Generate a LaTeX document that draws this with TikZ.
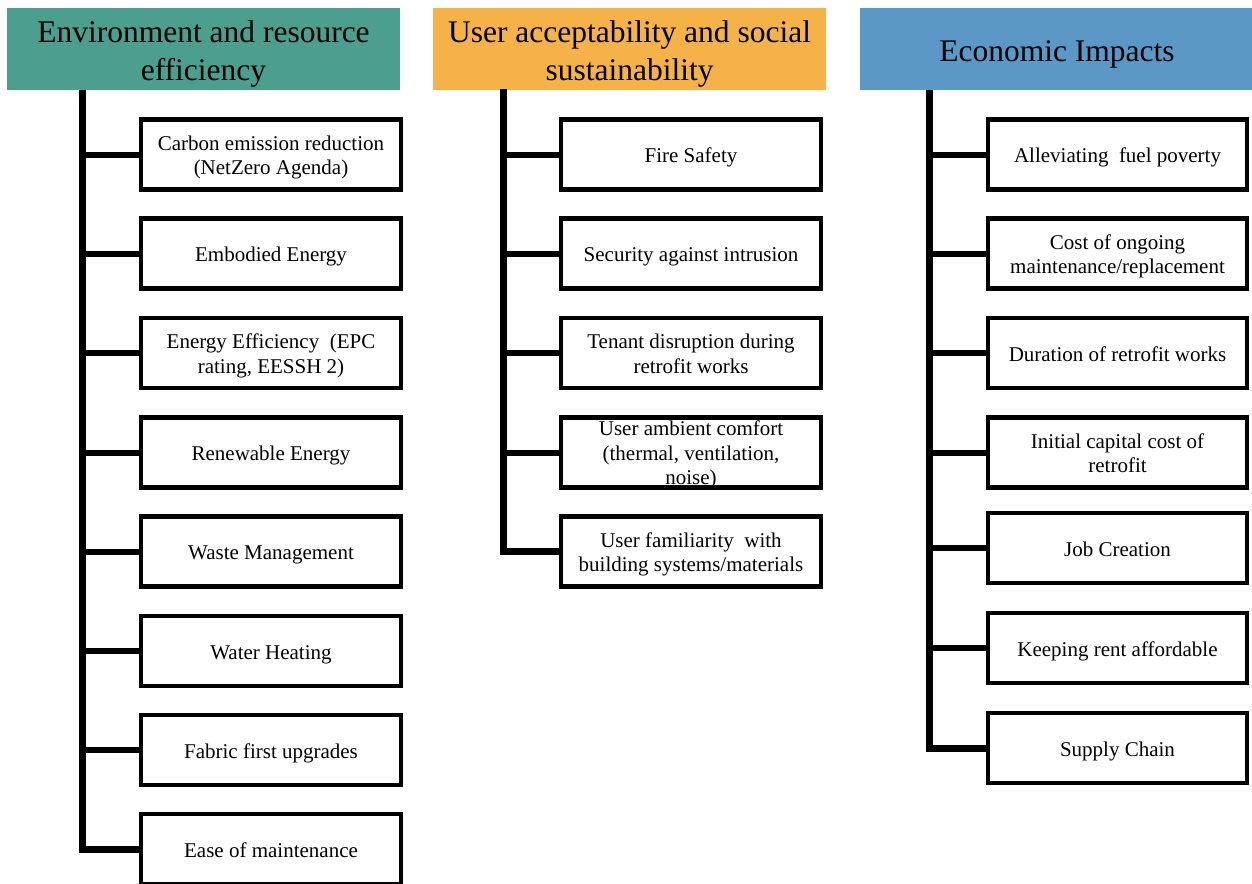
\documentclass[tikz,border=0pt]{standalone}
\usepackage{fontspec}
\setmainfont{Liberation Serif}
\definecolor{envteal}{RGB}{76,158,142}
\definecolor{userorange}{RGB}{245,178,72}
\definecolor{econblue}{RGB}{92,152,197}
% centred lines of text, lowered a little and kept from stretching the box
\newcommand{\boxlines}[2]{\raisebox{-#1}[\dimexpr\height-2pt\relax][\dimexpr\depth-2pt\relax]{%
  \begin{tabular}{@{}c@{}}#2\end{tabular}}}
\begin{document}
\begin{tikzpicture}[x=1pt,y=-1pt,
  header/.style={rectangle,inner sep=0pt,outer sep=0pt,minimum width=393,minimum height=82,
    font=\fontsize{31.5}{38}\selectfont},
  itembox/.style={rectangle,draw=black,line width=4.5pt,inner sep=0pt,outer sep=0pt,fill=white,
    minimum width=260,minimum height=70,font=\fontsize{21}{24.5}\selectfont},
  trunk/.style={line width=7pt,draw=black},
  branch/.style={line width=6pt,draw=black}]
\useasboundingbox (0,0) rectangle (1252,883);
\clip (0,0) rectangle (1252,883);

% column headers
\node[header,fill=envteal] (h1) at (203.5,49) {\boxlines{4.5pt}{Environment and resource\\efficiency}};
\node[header,fill=userorange] (h2) at (629.5,49) {\boxlines{4.5pt}{User acceptability and social\\sustainability}};
\node[header,fill=econblue,minimum width=394] (h3) at (1057,49) {\boxlines{5pt}{Economic Impacts}};

% environment and resource efficiency
\node[itembox] (b11) at (271,154.5) {\boxlines{3.2pt}{Carbon emission reduction\\(NetZero Agenda)}};
\node[itembox] (b12) at (271,253.5) {\boxlines{3.4pt}{Embodied Energy}};
\node[itembox] (b13) at (271,353) {\boxlines{3.2pt}{Energy Efficiency~ (EPC\\rating, EESSH 2)}};
\node[itembox] (b14) at (271,452.5) {\boxlines{3.4pt}{Renewable Energy}};
\node[itembox] (b15) at (271,551.5) {\boxlines{3.4pt}{Waste Management}};
\node[itembox] (b16) at (271,651) {\boxlines{3.4pt}{Water Heating}};
\node[itembox] (b17) at (271,750) {\boxlines{3.4pt}{Fabric first upgrades}};
\node[itembox] (b18) at (271,849) {\boxlines{3.4pt}{Ease of maintenance}};

% user acceptability and social sustainability
\node[itembox] (b21) at (691,154.5) {\boxlines{3.4pt}{Fire Safety}};
\node[itembox] (b22) at (691,253.5) {\boxlines{3.4pt}{Security against intrusion}};
\node[itembox] (b23) at (691,353) {\boxlines{3.2pt}{Tenant disruption during\\retrofit works}};
\node[itembox] (b24) at (691,452.5) {\raisebox{-7.9pt}[33pt][33pt]{\begin{tabular}{@{}c@{}}User ambient comfort\\(thermal, ventilation,\\noise)\end{tabular}}};
% the frame of this box runs over its last line of text
\draw[line width=4.5pt] (b24.north west) rectangle (b24.south east);
\node[itembox] (b25) at (691,551.5) {\boxlines{3.2pt}{User familiarity~ with\\building systems/materials}};

% economic impacts
\node[itembox,minimum width=259] (b31) at (1117.5,154.5) {\boxlines{3.4pt}{Alleviating~ fuel poverty}};
\node[itembox,minimum width=259] (b32) at (1117.5,253.5) {\boxlines{3.2pt}{Cost of ongoing\\maintenance/replacement}};
\node[itembox,minimum width=259] (b33) at (1117.5,353) {\boxlines{3.4pt}{Duration of retrofit works}};
\node[itembox,minimum width=259] (b34) at (1117.5,452.5) {\boxlines{3.2pt}{Initial capital cost of\\retrofit}};
\node[itembox,minimum width=259] (b35) at (1117.5,548) {\boxlines{3.4pt}{Job Creation}};
\node[itembox,minimum width=259] (b36) at (1117.5,648) {\boxlines{3.4pt}{Keeping rent affordable}};
\node[itembox,minimum width=259] (b37) at (1117.5,748) {\boxlines{3.4pt}{Supply Chain}};

% trunks hanging from the headers
\coordinate (t1) at (82,90);
\coordinate (t2) at (503.5,89);
\coordinate (t3) at (929,90);
\draw[trunk] (t1) |- (b18.west);
\draw[trunk] (t2) |- (b25.west);
\draw[trunk] (t3) |- (b37.west);

% branches to the boxes
\foreach \b in {b11,b12,b13,b14,b15,b16,b17}
  \draw[branch] (\b.west -| t1) -- (\b.west);
\foreach \b in {b21,b22,b23,b24}
  \draw[branch] (\b.west -| t2) -- (\b.west);
\foreach \b in {b31,b32,b33,b34,b35,b36}
  \draw[branch] (\b.west -| t3) -- (\b.west);
\end{tikzpicture}
\end{document}
